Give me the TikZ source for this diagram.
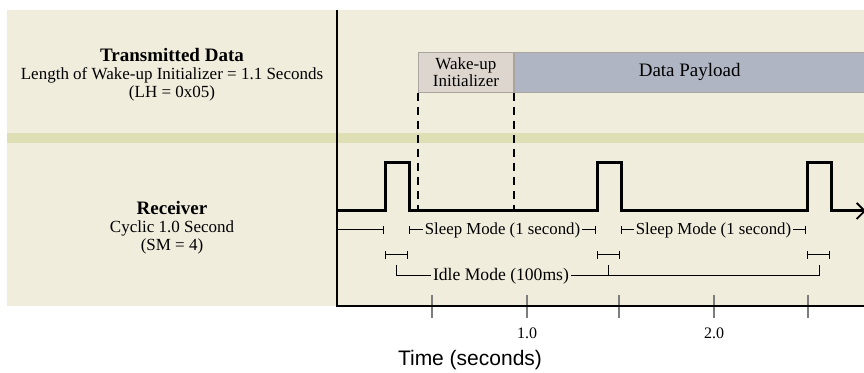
\documentclass[tikz,border=0pt]{standalone}
\usepackage{fontspec}
\setmainfont{Liberation Serif}
\setsansfont{Liberation Sans}
\usepackage{xcolor}
\definecolor{panelbeige}{RGB}{241,237,221}
\definecolor{bandolive}{RGB}{223,223,182}
\definecolor{wakegray}{RGB}{221,214,206}
\definecolor{payloadblue}{RGB}{176,181,196}
\definecolor{boxedge}{RGB}{170,164,158}
\definecolor{tickgray}{RGB}{125,125,125}
\usepackage{tikz}
\usetikzlibrary{arrows.meta}
\newcommand{\lowlevel}{211}
\newcommand{\highlevel}{163}
\newcommand{\sleeprow}{230}
\newcommand{\idlerow}{255}
\tikzset{
    caption/.style={align=center, font=\fontsize{8.5}{9}\selectfont},
    frame/.style={anchor=north west, draw=boxedge, line width=0.4pt, minimum height=20pt, inner sep=0pt, align=center, font=\fontsize{8.5}{8.5}\selectfont},
    signal/.style={line width=1.5pt, line join=miter},
    marker/.style={line width=1.2pt, dash pattern=on 4pt off 3pt},
    span/.style={line width=0.5pt, {Bar[width=4pt]}-{Bar[width=4pt]}},
    spanlabel/.style={fill=panelbeige, inner sep=1pt, font=\fontsize{8.4}{8.4}\selectfont},
    tick/.style={tickgray, line width=0.7pt}
}

\begin{document}
\begin{tikzpicture}[x=0.5pt, y=-0.5pt]
    \useasboundingbox (0,0) rectangle (864,373);
    % background panels
    \fill[panelbeige] (7,10) rectangle (864,306);
    \fill[bandolive] (7,133) rectangle (864,143);
    \coordinate (low) at (0,\lowlevel);

    % row captions
    \node[caption] (txcap) at (172,75) {{\bfseries\fontsize{9.5}{9}\selectfont Transmitted Data}\\Length of Wake-up Initializer = 1.1 Seconds\\(LH = 0x05)};
    \node[caption] (rxcap) at (172,228) {{\bfseries\fontsize{9.5}{9}\selectfont Receiver}\\Cyclic 1.0 Second\\(SM = 4)};

    % transmitted frame
    \node[frame, fill=wakegray, minimum width=47.5pt] (wake) at (418,52) {Wake-up\\Initializer};
    \node[frame, fill=payloadblue, minimum width=175.5pt, font=\fontsize{9.5}{9.5}\selectfont] (payload) at (wake.north east) {Data Payload};
    \draw[marker] (wake.south west) -- (wake.south west |- low);
    \draw[marker] (wake.south east) -- (wake.south east |- low);

    % receiver signal
    \draw[signal, -{Straight Barb[length=4pt, width=8pt, line width=0.9pt]}] (337,\lowlevel) -| (385,\highlevel) -| (409,\lowlevel) -| (597,\highlevel) -| (621,\lowlevel) -| (807,\highlevel) -| (831,\lowlevel) -- (866,\lowlevel);

    % sleep and idle spans
    \draw[line width=0.5pt, -{Bar[width=4pt]}] (337,\sleeprow) -- (384,\sleeprow);
    \draw[span] (409,\sleeprow) -- node[spanlabel] (sleepa) {Sleep Mode (1 second)} (596,\sleeprow);
    \draw[span] (621,\sleeprow) -- node[spanlabel] (sleepb) {Sleep Mode (1 second)} (806,\sleeprow);
    \foreach \a/\b in {385/408, 597/620, 807/830}
        \draw[span] (\a,\idlerow) -- (\b,\idlerow);
    \draw[line width=0.5pt] (396,265) |- (819,276) -- (819,265) (608,265) -- (608,276);
    \node[spanlabel, font=\fontsize{8.8}{8.8}\selectfont] (idle) at (501,276) {Idle Mode (100ms)};

    % time axis
    \foreach \x in {432,527,619,714,808}
        \draw[tick] (\x,295) -- (\x,318);
    \draw[line width=1pt] (337,10) -- (337,306) -- (864,306);
    \node[font=\fontsize{8}{8}\selectfont] (one) at (527,333) {1.0};
    \node[font=\fontsize{8}{8}\selectfont] (two) at (714,333) {2.0};
    \node[font=\sffamily\fontsize{10.5}{10.5}\selectfont] (timelabel) at (470,360) {Time (seconds)};
\end{tikzpicture}
\end{document}
